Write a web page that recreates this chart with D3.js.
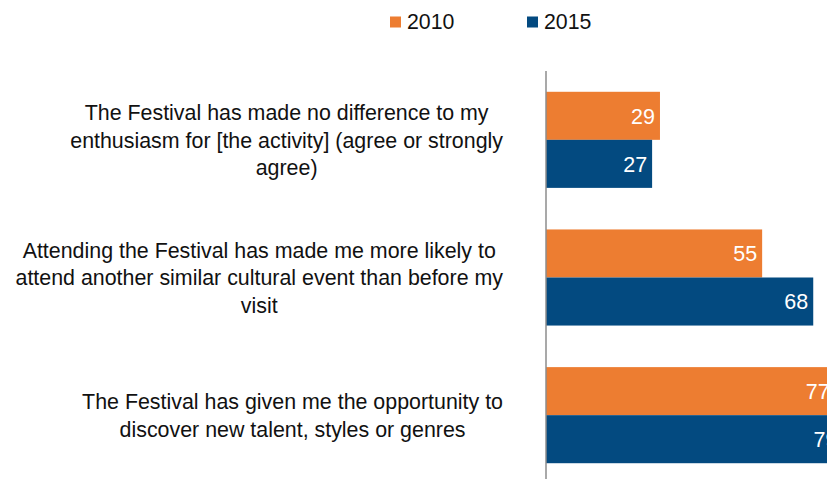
<!DOCTYPE html>
<html>
<head>
<meta charset="utf-8">
<script src="https://cdn.jsdelivr.net/npm/d3@7"></script>
<style>
  html, body { margin: 0; padding: 0; background: #fff; }
  svg { display: block; font-family: "Liberation Sans", Arial, sans-serif; }
</style>
</head>
<body>
<script>
// ---- data ----
const categories = [
  ["The Festival has made no difference to my", "enthusiasm for [the activity] (agree or strongly", "agree)"],
  ["Attending the Festival has made me more likely to", "attend another similar cultural event than before my", "visit"],
  ["The Festival has given me the opportunity to", "discover new talent, styles or genres"]
];
const seriesNames = ["2010", "2015"];
const values2010 = [29, 55, 77];
const values2015 = [27, 68, 79];
const seriesColors = ["#ED7D31", "#034A80"];

// ---- layout ----
const W = 827, H = 479;
const svg = d3.select("body").append("svg").attr("width", W).attr("height", H);

const catIds = categories.map((c, i) => i);
const y = d3.scaleBand().domain(catIds).range([71, 484]).paddingInner(0.302).paddingOuter(0.151);
const ySub = d3.scaleBand().domain(seriesNames).range([0, y.bandwidth()]);
const x = d3.scaleLinear().domain([0, 100]).range([546, 546 + 393]);

const series = [values2010, values2015];

// bars
catIds.forEach(ci => {
  series.forEach((vals, si) => {
    const v = vals[ci];
    const yy = y(ci) + ySub(seriesNames[si]);
    svg.append("rect")
      .attr("x", x(0))
      .attr("y", yy)
      .attr("width", x(v) - x(0))
      .attr("height", ySub.bandwidth())
      .attr("fill", seriesColors[si]);
    const xe = x(v);
    svg.append("text")
      .attr("x", xe - 5 - (xe > W ? 14 : 0))
      .attr("y", yy + ySub.bandwidth() / 2)
      .attr("dy", "0.36em")
      .attr("text-anchor", "end")
      .attr("fill", "#fff")
      .attr("font-size", 21.5)
      .text(v);
  });
});

// axis line
svg.append("line")
  .attr("x1", x(0)).attr("x2", x(0))
  .attr("y1", y.range()[0]).attr("y2", y.range()[1])
  .attr("stroke", "#8c8c8c").attr("stroke-width", 1.5);

// category labels (block right-aligned, lines centered within block)
const lineH = 27.5;
const rightEdge = 503;
catIds.forEach(ci => {
  const lines = categories[ci];
  const g = svg.append("g");
  const texts = lines.map((ln, li) => g.append("text")
    .attr("font-size", 21.4)
    .attr("fill", "#111")
    .attr("text-anchor", "middle")
    .attr("dy", "0.36em")
    .attr("y", y(ci) + y.bandwidth() / 2 + (li - (lines.length - 1) / 2) * lineH)
    .text(ln));
  const maxW = d3.max(texts, t => t.node().getComputedTextLength());
  texts.forEach(t => t.attr("x", rightEdge - maxW / 2));
});

// legend
const legendX = [390, 527];
seriesNames.forEach((name, si) => {
  svg.append("rect")
    .attr("x", legendX[si]).attr("y", 16.5)
    .attr("width", 11).attr("height", 11)
    .attr("fill", seriesColors[si]);
  svg.append("text")
    .attr("x", legendX[si] + 17).attr("y", 29)
    .attr("font-size", 21.3)
    .attr("fill", "#111")
    .text(name);
});
</script>
</body>
</html>
